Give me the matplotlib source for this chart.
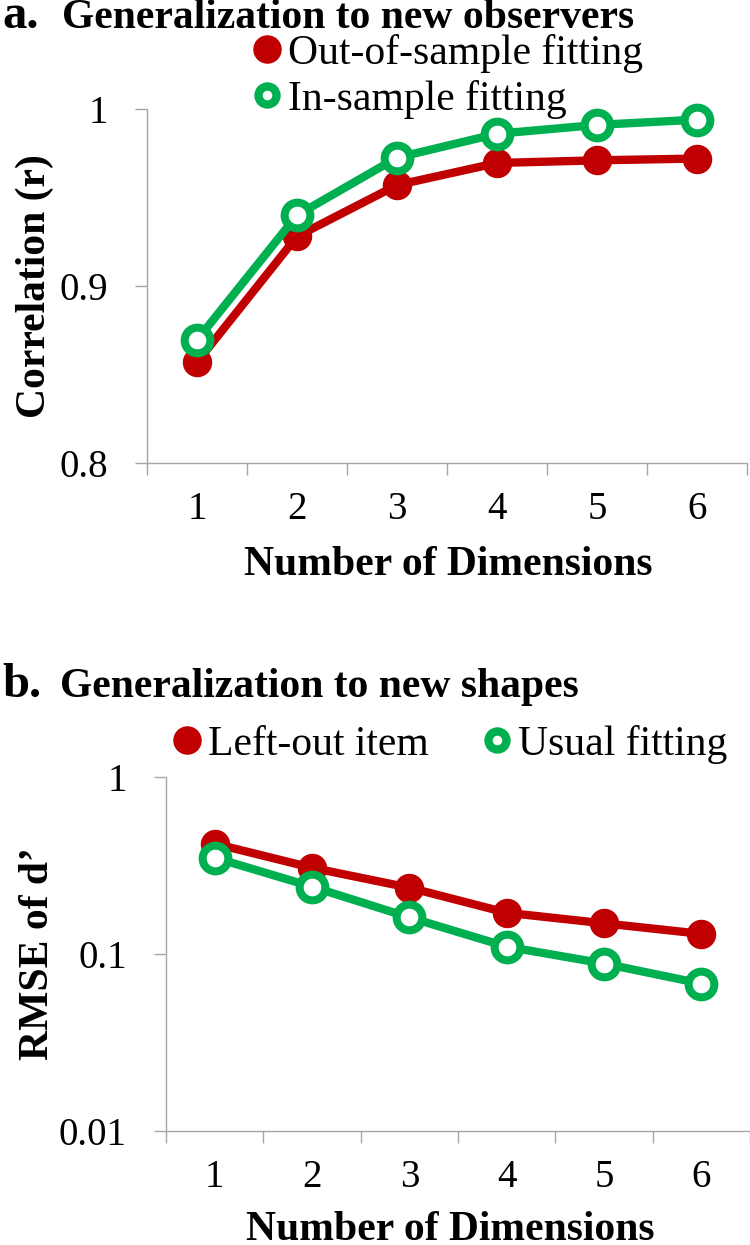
import matplotlib
matplotlib.use("Agg")
import matplotlib.pyplot as plt
from matplotlib.lines import Line2D

plt.rcParams['font.family'] = ['Liberation Serif', 'DejaVu Serif']

# ---- data ---------------------------------------------------------------
dims = [1, 2, 3, 4, 5, 6]

# a. generalization to new observers (correlation r)
out_of_sample = [0.857, 0.928, 0.957, 0.9695, 0.971, 0.972]
in_sample = [0.8695, 0.940, 0.9725, 0.986, 0.991, 0.994]

# b. generalization to new shapes (RMSE of d')
left_out = [0.42, 0.307, 0.237, 0.171, 0.149, 0.130]
usual_fit = [0.35, 0.24, 0.161, 0.110, 0.0883, 0.068]

corr_ticks = [0.8, 0.9, 1.0]
corr_labels = ['0.8', '0.9', '1']
rmse_ticks = [0.01, 0.1, 1]
rmse_labels = ['0.01', '0.1', '1']

RED = '#C00000'
GREEN = '#00B050'
AXIS_GREY = '#A6A6A6'

W, H = 750, 1245
fig = plt.figure(figsize=(W / 100, H / 100), dpi=100)


def px(x, y):
    """pixel position (from top-left) -> figure fraction"""
    return x / W, 1 - y / H


def style_axes(ax):
    for side in ('top', 'right'):
        ax.spines[side].set_visible(False)
    for side in ('left', 'bottom'):
        ax.spines[side].set_color(AXIS_GREY)
        ax.spines[side].set_linewidth(1.0)
    ax.set_xlim(0.5, 6.5)
    ax.set_xticks(dims)
    ax.set_xticks([d - 0.5 for d in dims] + [6.5], minor=True)
    ax.tick_params(axis='x', which='major', length=0, pad=20, labelsize=28)
    ax.tick_params(axis='x', which='minor', length=8.6, width=1.0,
                   color=AXIS_GREY, direction='out')
    ax.tick_params(axis='y', which='major', length=8.6, width=1.0,
                   color=AXIS_GREY, direction='out', pad=19.5, labelsize=28)
    ax.tick_params(axis='y', which='minor', length=0)


def draw_pair(ax, filled, ring):
    ax.plot(dims, filled, '-o', color=RED, lw=6, ms=20.2,
            mec=RED, mfc=RED, clip_on=False, zorder=3)
    ax.plot(dims, ring, '-o', color=GREEN, lw=6, ms=18.5, mew=5.8,
            mec=GREEN, mfc='white', clip_on=False, zorder=4)


red_key = Line2D([], [], ls='none', marker='o', ms=19.5, color=RED)
green_key = Line2D([], [], ls='none', marker='o', ms=13, mew=6,
                   mec=GREEN, mfc='white')

# ---- panel a ------------------------------------------------------------
ax1 = fig.add_axes([147 / W, 1 - 463 / H, 600 / W, 354 / H])
style_axes(ax1)
draw_pair(ax1, out_of_sample, in_sample)
ax1.set_ylim(0.8, 1.0)
ax1.set_yticks(corr_ticks)
ax1.set_yticklabels(corr_labels)
ax1.set_xlabel('Number of Dimensions', fontsize=30, fontweight='bold',
               va='baseline')
ax1.xaxis.set_label_coords(0.502, -0.3164)
ax1.set_ylabel('Correlation (r)', fontsize=30, fontweight='bold', va='center')
ax1.yaxis.set_label_coords(-0.187, 0.5)

fig.text(*px(2, 28), 'a.', fontsize=35, fontweight='bold', va='baseline')
fig.text(*px(62, 28), 'Generalization to new observers', fontsize=30,
         fontweight='bold', va='baseline')
fig.legend([red_key, green_key], ['Out-of-sample fitting', 'In-sample fitting'],
           loc='upper left', bbox_to_anchor=px(256.6, 34), frameon=False,
           fontsize=30, handlelength=0.5, handletextpad=0.25, labelspacing=0.17,
           borderpad=0, borderaxespad=0)

# ---- panel b ------------------------------------------------------------
ax2 = fig.add_axes([166 / W, 1 - 1131 / H, 584 / W, 354 / H])
ax2.set_yscale('log')
style_axes(ax2)
draw_pair(ax2, left_out, usual_fit)
ax2.set_ylim(0.01, 1)
ax2.set_yticks(rmse_ticks)
ax2.set_yticklabels(rmse_labels)
ax2.minorticks_off()
ax2.set_xticks([d - 0.5 for d in dims] + [6.5], minor=True)
ax2.set_xlabel('Number of Dimensions', fontsize=30, fontweight='bold',
               va='baseline')
ax2.xaxis.set_label_coords(0.487, -0.308)
ax2.set_ylabel('RMSE of d\u2019', fontsize=30, fontweight='bold', va='center')
ax2.yaxis.set_label_coords(-0.219, 0.5)

fig.text(*px(2, 697), 'b.', fontsize=35, fontweight='bold', va='baseline')
fig.text(*px(60, 697), 'Generalization to new shapes', fontsize=30,
         fontweight='bold', va='baseline')
fig.legend([red_key, green_key], ['Left-out item', 'Usual fitting'],
           loc='upper left', bbox_to_anchor=px(176.6, 725), frameon=False,
           fontsize=30, ncol=2, handlelength=0.5, handletextpad=0.25,
           columnspacing=1.4, borderpad=0, borderaxespad=0)

fig.savefig('out.png', dpi=100)
